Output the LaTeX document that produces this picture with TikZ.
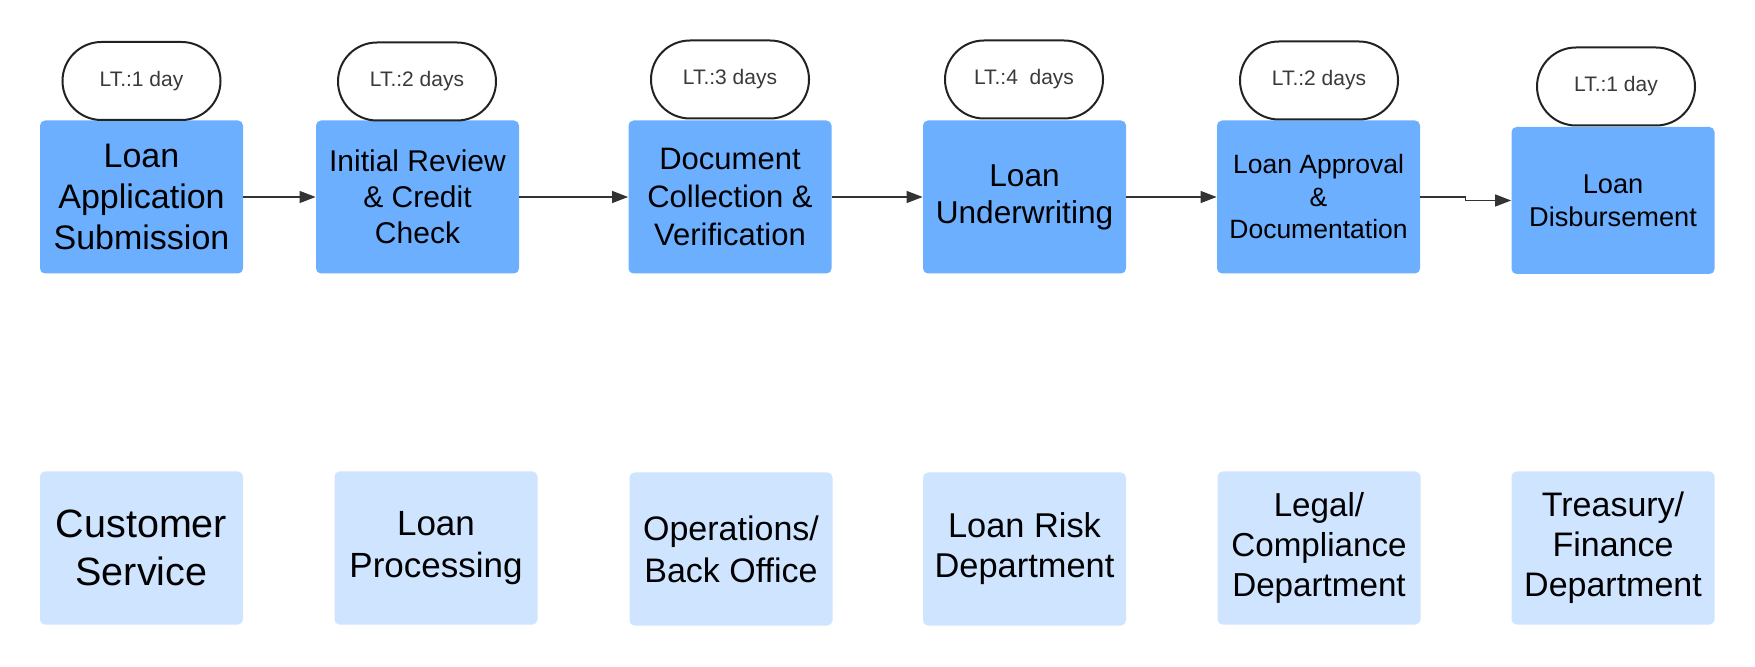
\documentclass[tikz,border=0pt]{standalone}
\usepackage{fontspec}
\setmainfont{Liberation Sans}
\usetikzlibrary{arrows.meta,calc}
\definecolor{stepblue}{HTML}{6CAFFF}
\definecolor{deptblue}{HTML}{CFE4FF}
\definecolor{pillline}{HTML}{222222}
\definecolor{pilltext}{HTML}{3A3A3A}
\definecolor{arrowcol}{HTML}{333333}
\newcommand{\fs}[2]{\fontsize{#1}{#2}\selectfont}
\begin{document}
\begin{tikzpicture}[x=0.5pt,y=-0.5pt,
  stepbox/.style={fill=stepblue, rounded corners=2.5pt, minimum width=101.5pt, minimum height=76.5pt, align=center, inner sep=0pt, text=black},
  deptbox/.style={fill=deptblue, rounded corners=2.5pt, minimum width=101.5pt, minimum height=76.5pt, align=center, inner sep=0pt, text=black},
  pill/.style={draw=pillline, line width=1pt, fill=white, rounded corners=19.5pt, minimum width=79pt, minimum height=39pt, inner sep=0pt, text=pilltext, font=\fs{10.5}{12.5}},
  flow/.style={draw=arrowcol, line width=0.65pt, -{Triangle[length=8pt,width=6pt]}}]
\useasboundingbox (0,0) rectangle (1755,667);
% process steps
\node[stepbox, font=\fs{17}{20.5}] (s1) at (141.5,197) {Loan\\Application\\Submission};
\node[stepbox, font=\fs{15}{18}] (s2) at (417.5,197) {Initial Review\\\& Credit\\Check};
\node[stepbox, font=\fs{15.5}{19}] (s3) at (730,197) {Document\\Collection \&\\Verification};
\node[stepbox, font=\fs{15.8}{18.5}] (s4) at (1024.5,197) {Loan\\Underwriting};
\node[stepbox, font=\fs{13.25}{16.25}] (s5) at (1318.5,197) {Loan Approval\\\&\\Documentation};
\node[stepbox, minimum height=73.5pt, font=\fs{13.6}{16.5}] (s6) at (1613,200.5) {Loan\\Disbursement};
% lead times
\node[pill] (p1) at (141.5,81) {LT.:1 day};
\node[pill] (p2) at (417,81.5) {LT.:2 days};
\node[pill] (p3) at (730,79.5) {LT.:3 days};
\node[pill] (p4) at (1024,79.5) {LT.:4\ \ days};
\node[pill] (p5) at (1319,80.5) {LT.:2 days};
\node[pill] (p6) at (1616,86.5) {LT.:1 day};
% departments
\node[deptbox, font=\fs{19.75}{24}] (d1) at (141.5,548) {Customer\\Service};
\node[deptbox, font=\fs{17.5}{21}] (d2) at (436,548) {Loan\\Processing};
\node[deptbox, font=\fs{17}{21}] (d3) at (731,549) {Operations/\\Back Office};
\node[deptbox, font=\fs{17.2}{20}] (d4) at (1024.5,549) {Loan Risk\\Department};
\node[deptbox, font=\fs{16.6}{20}] (d5) at (1319,548) {Legal/\\Compliance\\Department};
\node[deptbox, font=\fs{17}{20}] (d6) at (1613,548) {Treasury/\\Finance\\Department};
% flow
\draw[flow] (s1.east) -- (s2.west);
\draw[flow] (s2.east) -- (s3.west);
\draw[flow] (s3.east) -- (s4.west);
\draw[flow] (s4.east) -- (s5.west);
\draw[flow] (s5.east) -- ($(s5.east)+(45,0)$) |- (s6.west);
\end{tikzpicture}
\end{document}
